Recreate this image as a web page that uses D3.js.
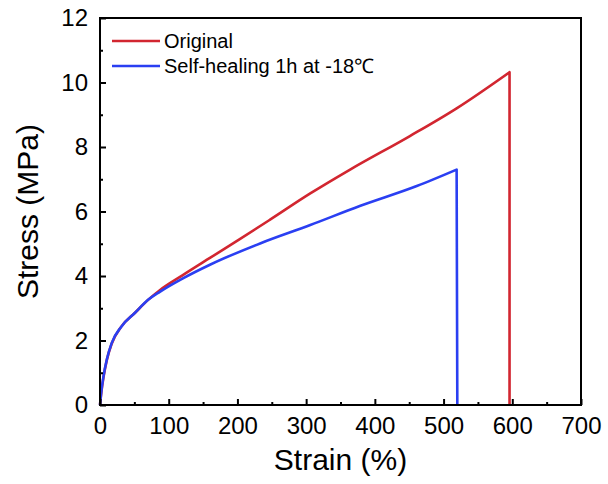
<!DOCTYPE html>
<html lang="en">
<head>
<meta charset="UTF-8">
<title>Stress-Strain</title>
<script src="https://d3js.org/d3.v7.min.js"></script>
<style>
  body { margin: 0; background: #fff; }
  svg text { font-family: "Liberation Sans", Arial, sans-serif; }
</style>
</head>
<body>
<div id="chart"></div>
<script>
// strain (%) / stress (MPa); last point is the break
const origStrain = [0, 2, 5, 10, 17, 31, 51, 70, 87, 120, 160, 204, 247, 306, 364, 451, 519, 596, 596];
const origStress = [0, 0.4, 0.85, 1.4, 1.9, 2.43, 2.86, 3.26, 3.56, 4.02, 4.56, 5.15, 5.74, 6.56, 7.3, 8.34, 9.2, 10.32, 0];
const healStrain = [0, 2, 5, 10, 17, 31, 51, 70, 87, 120, 160, 233, 306, 378, 461, 519, 520];
const healStress = [0, 0.42, 0.88, 1.42, 1.92, 2.43, 2.86, 3.26, 3.51, 3.92, 4.35, 5.01, 5.58, 6.17, 6.79, 7.3, 0];
const seriesNames = ["Original", "Self-healing 1h at -18\u2103"];
const xTicks = [0, 100, 200, 300, 400, 500, 600, 700];
const yTicks = [0, 2, 4, 6, 8, 10, 12];

const W = 608, H = 484;
const m = {left: 100, top: 18, right: 27, bottom: 79};
const iw = W - m.left - m.right, ih = H - m.top - m.bottom;

const svg = d3.select("#chart").append("svg")
  .attr("width", W).attr("height", H);

const x = d3.scaleLinear().domain([0, 700]).range([0, iw]);
const y = d3.scaleLinear().domain([0, 12]).range([ih, 0]);

const g = svg.append("g").attr("transform", `translate(${m.left},${m.top})`);

const series = [
  {name: seriesNames[0], color: "#d22630", pts: origStrain.map((s, i) => [s, origStress[i]])},
  {name: seriesNames[1], color: "#2a3ff2", pts: healStrain.map((s, i) => [s, healStress[i]])}
];

const smooth = d3.line().x(d => x(d[0])).y(d => y(d[1])).curve(d3.curveMonotoneX);

series.forEach(s => {
  const rise = s.pts.slice(0, -1);
  const brk = s.pts[s.pts.length - 1];
  g.append("path")
    .attr("d", smooth(rise) + `L${x(brk[0])},${y(brk[1])}`)
    .attr("fill", "none")
    .attr("stroke", s.color)
    .attr("stroke-width", 2.6)
    .attr("stroke-linejoin", "round");
});

// minor ticks
g.append("g").attr("transform", `translate(0,${ih})`)
  .call(d3.axisBottom(x).tickValues(d3.range(50, 700, 100)).tickSize(-3).tickFormat(""))
  .call(a => a.select(".domain").remove());
g.append("g")
  .call(d3.axisLeft(y).tickValues(d3.range(1, 12, 2)).tickSize(-3).tickFormat(""))
  .call(a => a.select(".domain").remove());

// major axes
const xa = g.append("g").attr("transform", `translate(0,${ih})`)
  .call(d3.axisBottom(x).tickValues(xTicks).tickSize(-6).tickPadding(12).tickFormat(d3.format("d")));
const ya = g.append("g")
  .call(d3.axisLeft(y).tickValues(yTicks).tickSize(-6).tickPadding(12));

[xa, ya].forEach(a => {
  a.selectAll(".domain").remove();
  a.selectAll("text").attr("font-size", 24).attr("fill", "#000").style("font-family", "'Liberation Sans', Arial, sans-serif");
});
g.selectAll(".tick line").attr("stroke", "#000").attr("stroke-width", 2);

// frame
g.append("rect")
  .attr("width", iw).attr("height", ih)
  .attr("fill", "none").attr("stroke", "#000").attr("stroke-width", 2);

// axis titles
svg.append("text")
  .attr("x", m.left + iw / 2).attr("y", 470)
  .attr("text-anchor", "middle").attr("font-size", 30)
  .text("Strain (%)");
svg.append("text")
  .attr("transform", `translate(38,${m.top + ih / 2}) rotate(-90)`)
  .attr("text-anchor", "middle").attr("font-size", 30)
  .text("Stress (MPa)");

// legend
const lg = svg.append("g");
series.forEach((s, i) => {
  const yy = 41 + i * 25;
  lg.append("line")
    .attr("x1", 112).attr("x2", 160).attr("y1", yy).attr("y2", yy)
    .attr("stroke", s.color).attr("stroke-width", 2.6);
  lg.append("text")
    .attr("x", 164).attr("y", yy + 7)
    .attr("font-size", 20)
    .text(s.name);
});
</script>
</body>
</html>
